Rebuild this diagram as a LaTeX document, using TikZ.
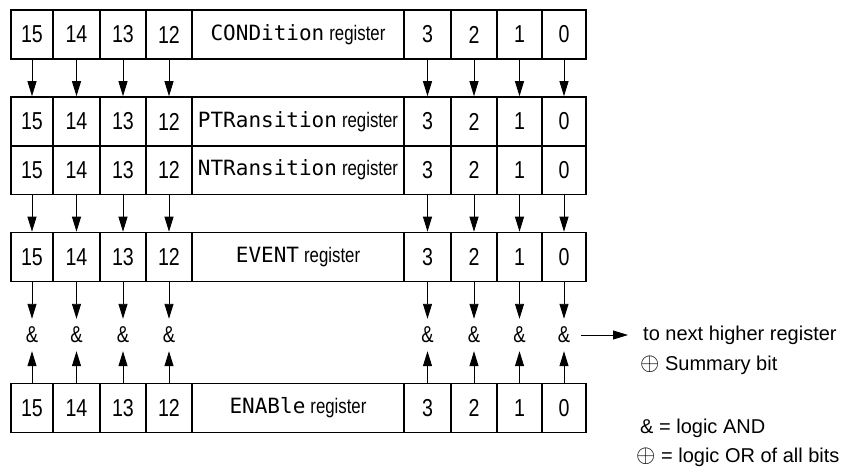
\documentclass[tikz,border=0pt]{standalone}
\usepackage{fontspec}
\setmainfont{Liberation Sans}
\newfontfamily\cellfont[FakeStretch=0.8]{Liberation Sans}
\newfontfamily\cmdfont{DejaVu Sans Mono}
\usetikzlibrary{arrows.meta}
\newcommand{\regname}[1]{{\cmdfont\fontsize{21}{24}\selectfont #1}\hspace{5pt}{\fontsize{21}{24}\selectfont register}}
\newcommand{\xor}{{\fontsize{35}{35}\selectfont$\oplus$}}

\tikzset{
  cell/.style={draw, line width=1.6pt, minimum height=49pt, inner sep=0pt,
    font=\cellfont\fontsize{24.5}{28}\selectfont},
  andop/.style={minimum width=34pt, text height=15pt, text depth=0pt,
    inner ysep=8.5pt, inner xsep=0pt, font=\cellfont\fontsize{23}{26}\selectfont},
  arr/.style={-{Triangle[length=15pt,width=9pt]}, line width=0.9pt},
  legend/.style={anchor=west, inner sep=3pt, font=\fontsize{20}{24}\selectfont},
}

\begin{document}
\begin{tikzpicture}[x=1pt,y=-1pt]
  \useasboundingbox (0,0) rectangle (846,473);
  % bit cells of the five registers
  \foreach \reg/\y in {cond/34.5, ptr/121.5, ntr/170, event/257, enab/408} {
    \foreach \b/\x/\w in {15/32/42, 14/76.5/47, 13/123/46, 12/169/46,
                          3/427.5/47, 2/474/46, 1/519.5/45, 0/564/44}
      \node[cell, minimum width=\w pt] (\reg\b) at (\x,\y) {\b};
  }
  % register names
  \node[cell, minimum width=212pt] (condname) at (298,34.5) {\regname{CONDition}};
  \node[cell, minimum width=212pt] (ptrname) at (298,121.5) {\regname{PTRansition}};
  \node[cell, minimum width=212pt] (ntrname) at (298,170) {\regname{NTRansition}};
  \node[cell, minimum width=212pt] (eventname) at (298,257) {\regname{EVENT}};
  \node[cell, minimum width=212pt] (enabname) at (298,408) {\regname{ENABle}};
  % AND of event and enable bits
  \foreach \b/\x in {15/32, 14/76.5, 13/123, 12/169, 3/427.5, 2/474, 1/519.5, 0/564}
    \node[andop] (and\b) at (\x,335) {\&};
  \foreach \b in {15,14,13,12,3,2,1,0} {
    \draw[arr] (cond\b) -- (ptr\b);
    \draw[arr] (ntr\b) -- (event\b);
    \draw[arr] (event\b) -- (and\b);
    \draw[arr] (enab\b) -- (and\b);
  }
  % legend
  \node[legend, inner xsep=15pt] (nexthigher) at (628,335) {to next higher register};
  \draw[arr] (and0) -- (nexthigher);
  \node[legend] (summary) at (637,365) {\xor\ Summary bit};
  \node[legend] (andkey) at (637,428) {\& = logic AND};
  \node[legend] (orkey) at (633,457) {\xor\ = logic OR of all bits};
\end{tikzpicture}
\end{document}
